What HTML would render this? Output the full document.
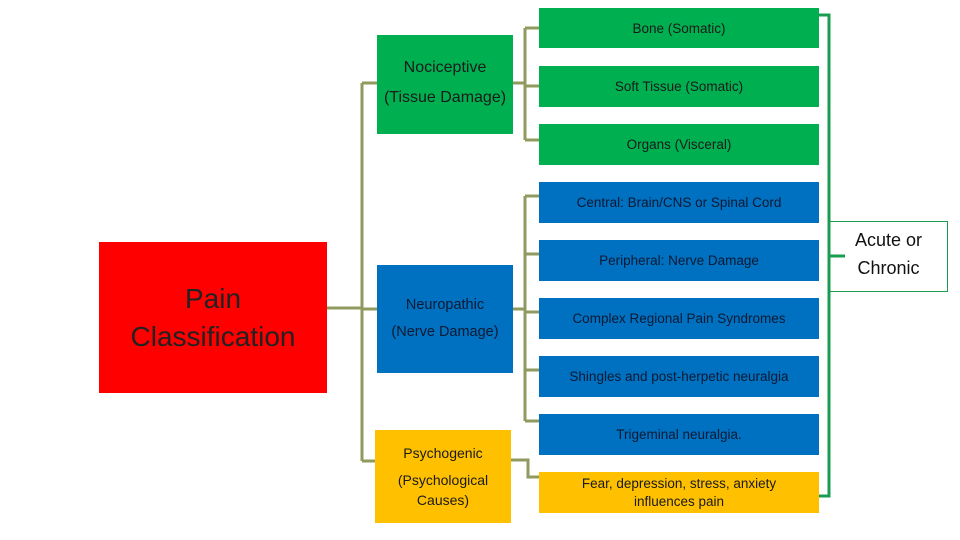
<!DOCTYPE html>
<html><head><meta charset="utf-8"><style>
body{margin:0;width:960px;height:540px;background:#fff;position:relative;overflow:hidden;font-family:"Liberation Sans",sans-serif}
.b{position:absolute;display:flex;align-items:center;justify-content:center;text-align:center;box-sizing:border-box}
.g{background:#00b050;color:#1a1a1a}
.u{background:#0070c0;color:#0d1a33}
.y{background:#ffc000;color:#1a1a1a}
.s{font-size:13.5px}
</style></head><body>
<svg width="960" height="540" style="position:absolute;left:0;top:0">
<g stroke="#8f9a5e" stroke-width="3" fill="none">
<path d="M327 308H362M362 83V461M362 83H377M362 309H377M362 461H375"/>
<path d="M513 83H525M525 28V140M525 28H539M525 86H539M525 140H539"/>
<path d="M513 309H525M525 196V421M525 196H539M525 254H539M525 312H539M525 370H539M525 421H539"/>
<path d="M511 460H528V477H539"/>
</g>
<g stroke="#1a9c50" stroke-width="3" fill="none">
<path d="M819 15H829V496H819M829 256H845"/>
</g>
</svg>
<div class="b" style="left:99px;top:242px;width:228px;height:151px;background:#ff0000;color:#222;font-size:28px;line-height:38px">Pain<br>Classification</div>
<div class="b g" style="left:377px;top:35px;width:136px;height:99px;font-size:16px;line-height:30px;padding-bottom:4px">Nociceptive<br>(Tissue Damage)</div>
<div class="b u" style="left:377px;top:265px;width:136px;height:108px;font-size:14.5px;line-height:27px">Neuropathic<br>(Nerve Damage)</div>
<div style="position:absolute;left:375px;top:430px;width:136px;height:93px;background:#ffc000;color:#1a1a1a;text-align:center;font-size:14px;line-height:20px">
<div style="position:absolute;top:13px;width:136px">Psychogenic</div>
<div style="position:absolute;top:40px;width:136px">(Psychological<br>Causes)</div>
</div>
<div class="b g s" style="left:539px;top:8px;width:280px;height:40px">Bone (Somatic)</div>
<div class="b g s" style="left:539px;top:66px;width:280px;height:41px">Soft Tissue (Somatic)</div>
<div class="b g s" style="left:539px;top:124px;width:280px;height:41px">Organs (Visceral)</div>
<div class="b u s" style="left:539px;top:182px;width:280px;height:41px">Central: Brain/CNS or Spinal Cord</div>
<div class="b u s" style="left:539px;top:240px;width:280px;height:41px">Peripheral: Nerve Damage</div>
<div class="b u s" style="left:539px;top:298px;width:280px;height:41px">Complex Regional Pain Syndromes</div>
<div class="b u s" style="left:539px;top:356px;width:280px;height:41px">Shingles and post-herpetic neuralgia</div>
<div class="b u s" style="left:539px;top:414px;width:280px;height:41px">Trigeminal neuralgia.</div>
<div class="b y s" style="left:539px;top:472px;width:280px;height:41px;line-height:18px">Fear, depression, stress, anxiety<br>influences pain</div>
<div class="b" style="left:830px;top:221px;width:118px;height:71px;font-size:18px;line-height:28px;color:#111;border:1px solid #1a9c50;border-left:none;padding-bottom:6px">Acute or<br>Chronic</div>
</body></html>
